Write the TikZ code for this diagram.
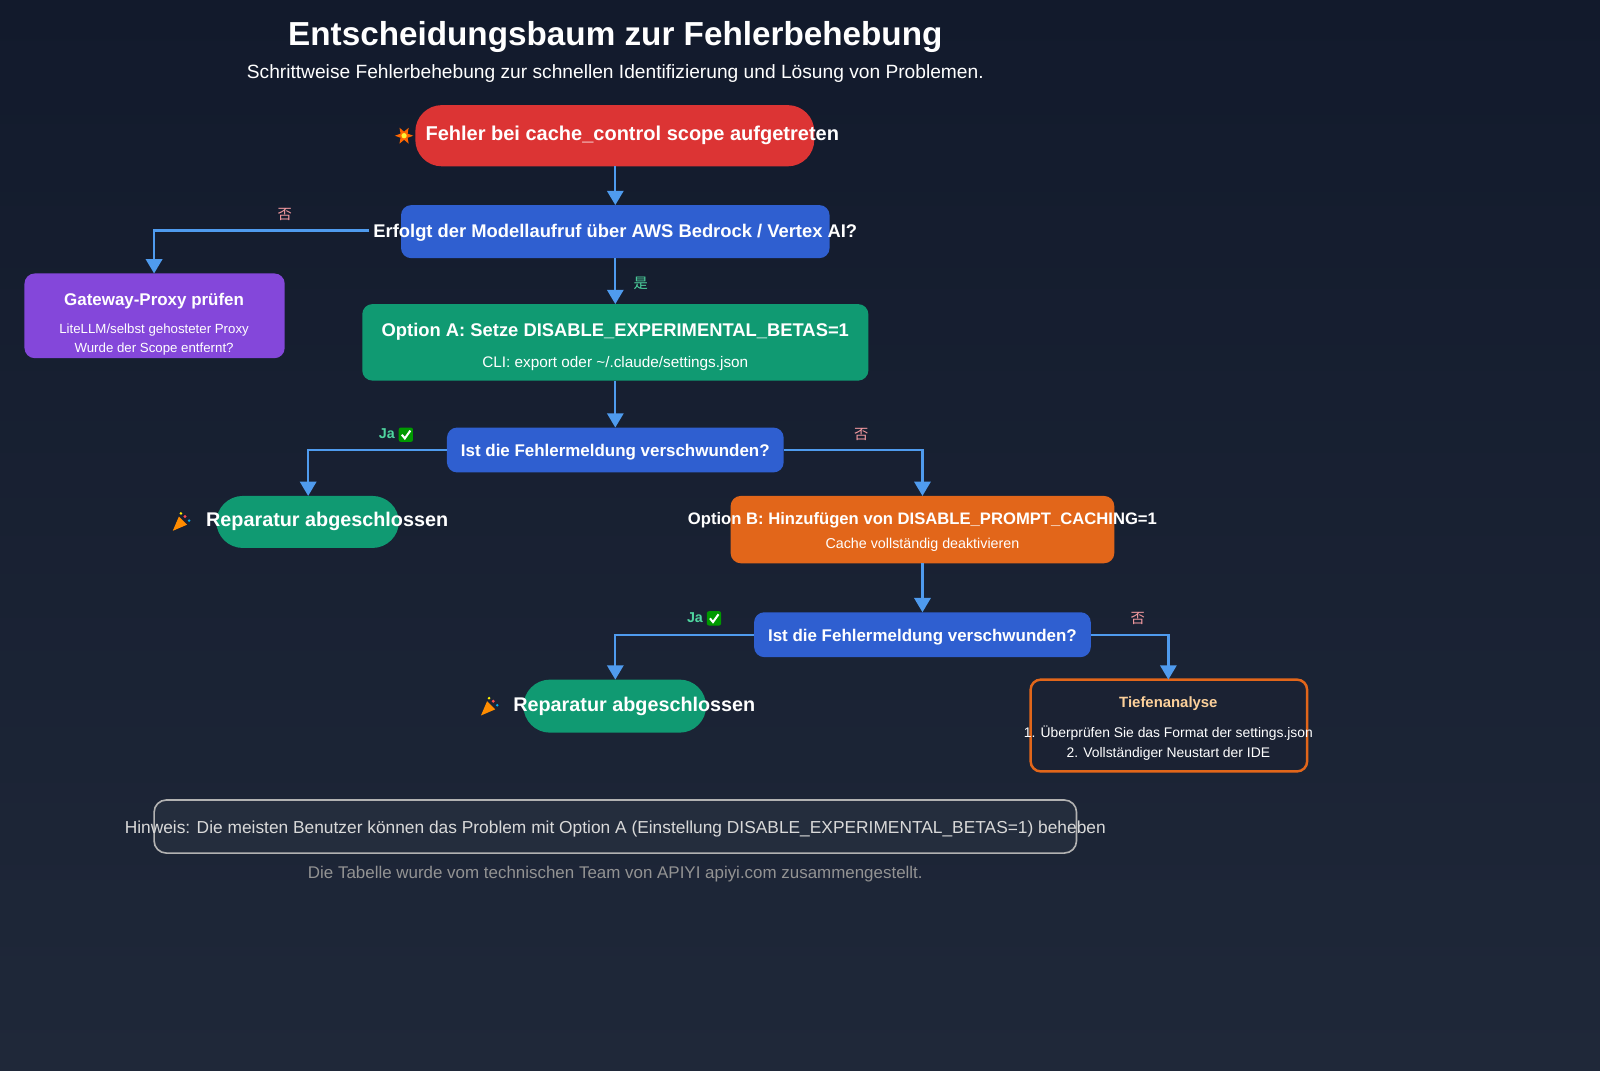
\documentclass[tikz,border=0pt]{standalone}
\usepackage{fontspec}
\setmainfont{Liberation Sans}
\newfontfamily\cjk{Noto Sans CJK SC}
\usetikzlibrary{arrows.meta}
\definecolor{bgA}{HTML}{121A2C}
\definecolor{bgB}{HTML}{1F2839}
\definecolor{lnk}{HTML}{4F9BEE}
\definecolor{redN}{HTML}{DC3434}
\definecolor{blueN}{HTML}{2F5FD0}
\definecolor{purN}{HTML}{8447DA}
\definecolor{grnN}{HTML}{109A72}
\definecolor{orN}{HTML}{E2661A}
\definecolor{pinkT}{HTML}{F49AA0}
\definecolor{grnT}{HTML}{4FD6A0}
\definecolor{peach}{HTML}{FCD09A}
\definecolor{tiefBg}{HTML}{1B2233}
\newcommand{\fs}[1]{\fontsize{#1pt}{\dimexpr #1pt*12/10\relax}\selectfont}
\newcommand{\chk}{\tikz[baseline=-0.5ex]{\fill[green!60!black,rounded corners=1pt](-3.5pt,-3.5pt) rectangle (3.5pt,3.5pt);\draw[white,line width=1pt](-2pt,0)--(-0.5pt,-1.8pt)--(2.2pt,2pt);}}
\newcommand{\popper}{\tikz[baseline=-0.6ex]{\fill[orange!90!yellow](-4pt,-4pt)--(-1pt,3pt)--(3pt,-1pt)--cycle;\fill[red!70](2pt,3pt) circle (0.8pt);\fill[cyan](4pt,1pt) circle (0.7pt);\fill[yellow](0pt,4.5pt) circle (0.7pt);}}
\newcommand{\boom}{\tikz[baseline=-0.6ex]{\fill[orange!80!red] (0:4.5pt)--(30:2pt)--(60:4.5pt)--(90:2pt)--(120:4.5pt)--(150:2pt)--(180:4.5pt)--(210:2pt)--(240:4.5pt)--(270:2pt)--(300:4.5pt)--(330:2pt)--cycle; \fill[yellow!80](0,0) circle (1.3pt);}}
\tikzset{
 px/.style={x=0.5pt,y=-0.5pt},
 lk/.style={draw=lnk,line width=1.1pt,-{Triangle[length=7pt,width=8pt]}},
 box/.style={rounded corners=5pt,inner sep=0pt},
 pill/.style={rounded corners=13pt,inner sep=0pt},
 wt/.style={text=white,font=\bfseries\fs{9}},
 st/.style={text=white!90,font=\fs{6.5}},
 lbl/.style={font=\bfseries\fs{7}},
}
\begin{document}
\begin{tikzpicture}[px]
\shade[top color=bgA,bottom color=bgB] (0,0) rectangle (1568,1049);
\useasboundingbox (0,0) rectangle (1568,1049);
\node[text=white,font=\bfseries\fs{16.3}] (title) at (603,36) {Entscheidungsbaum zur Fehlerbehebung};
\node[text=white!88,font=\fs{9.4}] (sub) at (603,72) {Schrittweise Fehlerbehebung zur schnellen Identifizierung und Lösung von Problemen.};
% start
\path[fill=redN,pill] (407,103) rectangle (798,163);
\coordinate (startB) at (603,163);
\node[wt,font=\bfseries\fs{9.8},anchor=west] (startT) at (410,133) {Fehler bei cache\_control scope aufgetreten};
\node (boom) at (396,133) {\boom};
% Q1
\path[fill=blueN,box] (393,201) rectangle (813,253);
\node[wt] (q1) at (603,228) {Erfolgt der Modellaufruf über AWS Bedrock / Vertex AI?};
\coordinate (q1T) at (603,201); \coordinate (q1B) at (603,253); \coordinate (q1L) at (362,226);
% gateway
\path[fill=purN,box] (24,268) rectangle (279,351);
\node[wt,font=\bfseries\fs{8.3}] (gw) at (151,295) {Gateway-Proxy prüfen};
\node[st] (gw1) at (151,323) {LiteLLM/selbst gehosteter Proxy};
\node[st] (gw2) at (151,342) {Wurde der Scope entfernt?};
\coordinate (gwT) at (151,268);
% option A
\path[fill=grnN,box] (355,298) rectangle (851,373);
\node[wt] (oa) at (603,325) {Option A: Setze DISABLE\_EXPERIMENTAL\_BETAS=1};
\node[st,font=\fs{7.5}] (oa1) at (603,356) {CLI: export oder \textasciitilde/.claude/settings.json};
\coordinate (oaT) at (603,298); \coordinate (oaB) at (603,373);
% Q2
\path[fill=blueN,box] (438,419) rectangle (768,463);
\node[wt,font=\bfseries\fs{8.3}] (q2) at (603,443) {Ist die Fehlermeldung verschwunden?};
\coordinate (q2T) at (603,419); \coordinate (q2L) at (438,441); \coordinate (q2R) at (768,441);
% done1
\path[fill=grnN,pill] (212,486) rectangle (391,537);
\node[wt,font=\bfseries\fs{9.7},anchor=west] (d1) at (195,511) {Reparatur abgeschlossen};
\node (p1) at (178,511) {\popper};
\coordinate (d1T) at (302,486);
% option B
\path[fill=orN,box] (716,486) rectangle (1092,552);
\node[wt,font=\bfseries\fs{8.15}] (ob) at (904,510) {Option B: Hinzufügen von DISABLE\_PROMPT\_CACHING=1};
\node[st,font=\fs{7}] (ob1) at (904,534) {Cache vollständig deaktivieren};
\coordinate (obT) at (904,486); \coordinate (obB) at (904,552);
% Q3
\path[fill=blueN,box] (739,600) rectangle (1069,644);
\node[wt,font=\bfseries\fs{8.3}] (q3) at (904,624) {Ist die Fehlermeldung verschwunden?};
\coordinate (q3T) at (904,600); \coordinate (q3L) at (739,622); \coordinate (q3R) at (1069,622);
% done2
\path[fill=grnN,pill] (513,666) rectangle (692,718);
\node[wt,font=\bfseries\fs{9.7},anchor=west] (d2) at (496,692) {Reparatur abgeschlossen};
\node (p2) at (480,692) {\popper};
\coordinate (d2T) at (603,666);
% Tiefenanalyse
\path[fill=tiefBg,draw=orN,line width=1.2pt,box] (1010,666) rectangle (1281,756);
\node[text=peach,font=\bfseries\fs{7.3}] (ti) at (1145,690) {Tiefenanalyse};
\node[st,font=\fs{6.8},text=white!75] (ti1) at (1145,718) {1. Überprüfen Sie das Format der settings.json};
\node[st,font=\fs{6.8},text=white!75] (ti2) at (1145,739) {2. Vollständiger Neustart der IDE};
\coordinate (tiT) at (1145,666);
% connectors
\draw[lk] (startB) -- (q1T);
\draw[lk] (q1L) -- (151,226) -- (gwT);
\node[text=pinkT,font=\cjk\fs{7}] (n1) at (279,210) {否};
\draw[lk] (q1B) -- (oaT);
\node[text=grnT,font=\cjk\fs{7}] (y1) at (628,278) {是};
\draw[lk] (oaB) -- (q2T);
\draw[lk] (q2L) -- (302,441) -- (d1T);
\node[lbl,text=grnT] (j1) at (388,426) {Ja \chk};
\draw[lk] (q2R) -- (904,441) -- (obT);
\node[text=pinkT,font=\cjk\fs{7}] (n2) at (844,426) {否};
\draw[lk] (obB) -- (q3T);
\draw[lk] (q3L) -- (603,622) -- (d2T);
\node[lbl,text=grnT] (j2) at (690,606) {Ja \chk};
\draw[lk] (q3R) -- (1145,622) -- (tiT);
\node[text=pinkT,font=\cjk\fs{7}] (n3) at (1115,606) {否};
% note
\path[fill=white,fill opacity=0.04,draw=gray!60,line width=0.8pt,rounded corners=6pt] (151,784) rectangle (1055,836);
\node[text=white!70!gray,font=\fs{8.5}] (note) at (603,812) {Hinweis: Die meisten Benutzer können das Problem mit Option A (Einstellung DISABLE\_EXPERIMENTAL\_BETAS=1) beheben};
\node[text=gray!85,font=\fs{8.3}] (foot) at (603,857) {Die Tabelle wurde vom technischen Team von APIYI apiyi.com zusammengestellt.};
\end{tikzpicture}
\end{document}
